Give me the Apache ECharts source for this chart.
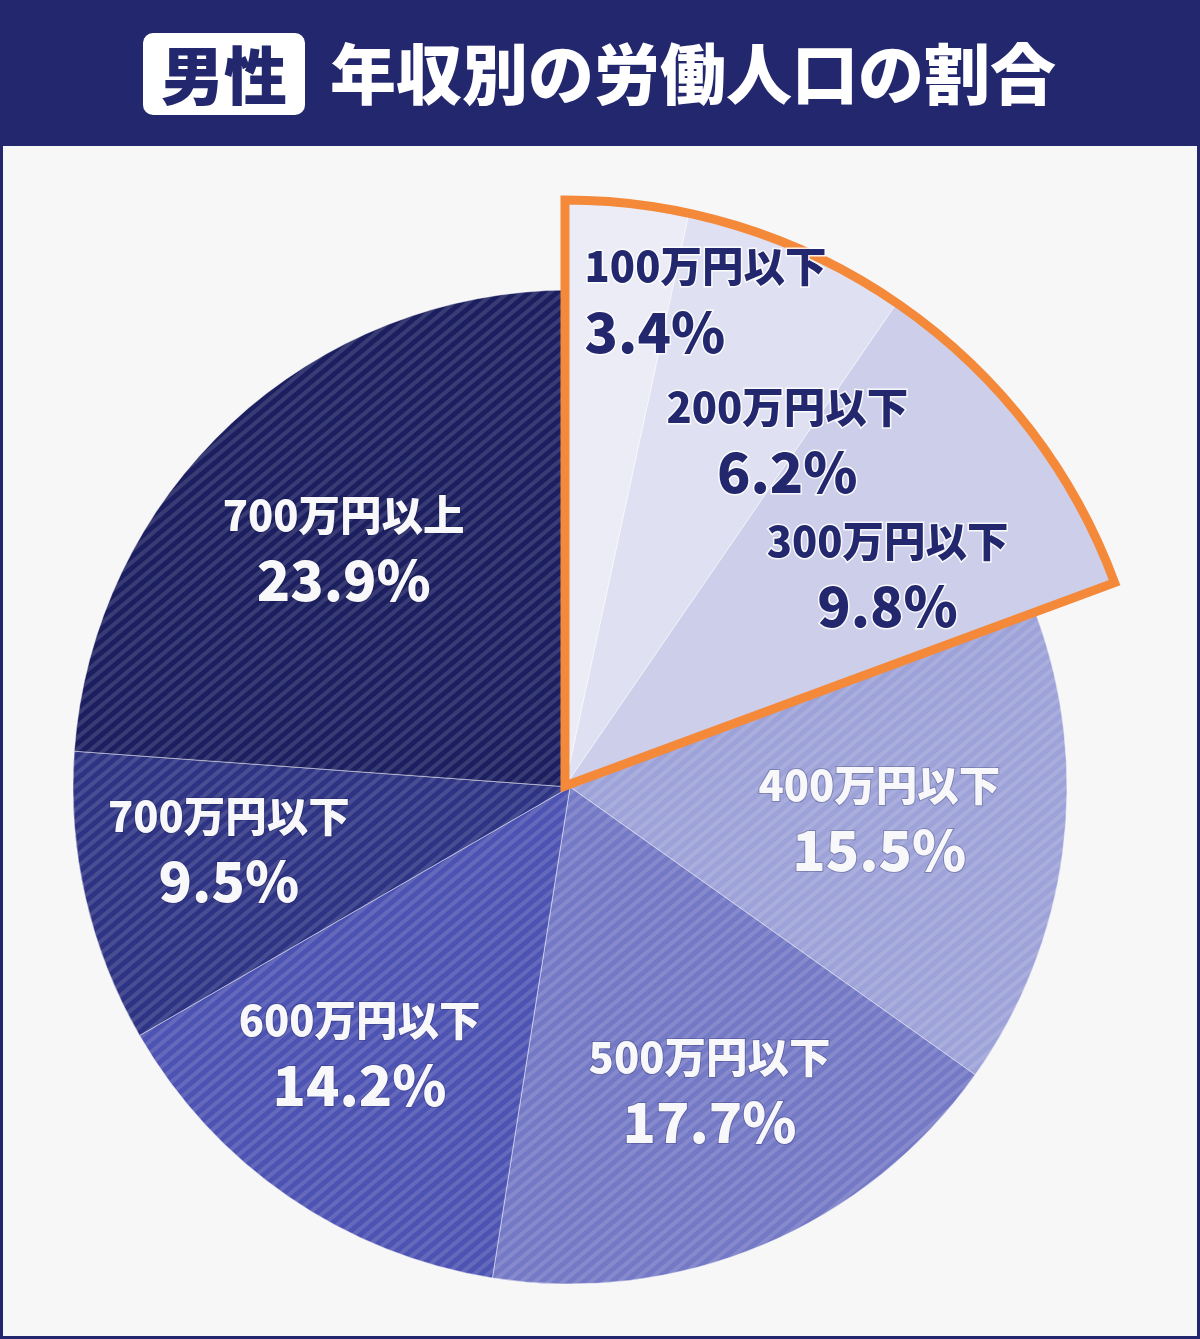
<!DOCTYPE html>
<html>
<head>
<meta charset="utf-8">
<title>男性 年収別の労働人口の割合</title>
<script src="https://cdn.jsdelivr.net/npm/echarts@6/dist/echarts.min.js"></script>
<style>
html, body { margin: 0; padding: 0; background: #f7f7f7; }
#main { width: 1200px; height: 1339px; }
</style>
</head>
<body>
<div id="main"></div>
<script>
// data (clockwise from 12 o'clock)
var categories = ['100万円以下', '200万円以下', '300万円以下', '400万円以下', '500万円以下', '600万円以下', '700万円以下', '700万円以上'];
var shares = [3.4, 6.2, 9.8, 15.5, 17.7, 14.2, 9.5, 23.9];
var sliceColors = ['#ebecf6', '#dfe0f2', '#cdcfea', '#9da2d8', '#7479c6', '#4d53b2', '#2e3483', '#1c1f5f'];
var pulledOut = 3;   // the first three slices are drawn bigger with an orange frame
// label nudges away from the default "inside" spot
var labelOffsets = [[109, -190], [105, -72], [89, -28], [60, 0], [42, 73], [-68, 61], [-96, 8], [-55, -53]];

var navy = '#23286e';
var font = '"Noto Sans CJK JP"';
var stripes = {
  symbol: 'rect',
  symbolSize: 1,
  dashArrayX: [1, 0],
  dashArrayY: [4, 5],
  rotation: -0.7,
  color: 'rgba(255,255,255,0.13)'
};
var hidden = { color: 'rgba(0,0,0,0)', borderWidth: 0 };

var mainData = [];
var bigData = [];
for (var i = 0; i < categories.length; i++) {
  var isBig = i < pulledOut;
  mainData.push({
    name: categories[i],
    value: shares[i],
    itemStyle: isBig ? hidden : { color: sliceColors[i], decal: stripes },
    label: isBig ? { show: false } : { offset: labelOffsets[i] }
  });
  var lbl = { offset: labelOffsets[i] };
  if (i == 0) {
    lbl.rich = { n: { align: 'left' }, p: { align: 'left' } };
  }
  bigData.push({
    name: categories[i],
    value: shares[i],
    itemStyle: isBig ? { color: sliceColors[i] } : hidden,
    label: isBig ? lbl : { show: false }
  });
}

var frontSum = 0, backSum = 0;
shares.forEach(function (v, k) { if (k < pulledOut) frontSum += v; else backSum += v; });

function labelText(p) {
  return '{n|' + p.name + '}\n{p|' + p.value.toFixed(1) + '%}';
}
var rich = {
  n: { fontSize: 41.5, fontWeight: 900, fontFamily: font, lineHeight: 60 },
  p: { fontSize: 55, fontWeight: 900, fontFamily: font, lineHeight: 70 }
};

var myChart = echarts.init(document.getElementById('main'), null, { renderer: 'canvas' });

var option = {
  animation: false,
  backgroundColor: '#f7f7f7',
  graphic: [
    { type: 'rect', shape: { x: 0, y: 0, width: 1200, height: 146 }, style: { fill: navy }, silent: true },
    { type: 'rect', shape: { x: 1.5, y: 1.5, width: 1197, height: 1336 }, style: { fill: 'none', stroke: navy, lineWidth: 3 }, silent: true },
    { type: 'rect', shape: { x: 143, y: 33, width: 162, height: 82, r: 10 }, style: { fill: '#ffffff' }, silent: true },
    {
      type: 'text', x: 224, y: 75, silent: true,
      style: { text: '男性', fill: navy, fontSize: 63, fontWeight: 900, fontFamily: font, align: 'center', verticalAlign: 'middle', textAlign: 'center', textVerticalAlign: 'middle' }
    },
    {
      type: 'text', x: 330, y: 74, silent: true,
      style: { text: '年収別の労働人口の割合', fill: '#ffffff', fontSize: 66, fontWeight: 900, fontFamily: font, align: 'left', verticalAlign: 'middle', textAlign: 'left', textVerticalAlign: 'middle' }
    }
  ],
  series: [
    {
      // main pie
      type: 'pie',
      silent: true,
      center: [570, 787],
      radius: 497,
      startAngle: 90,
      itemStyle: { borderColor: 'rgba(255,255,255,0.25)', borderWidth: 1 },
      label: {
        position: 'inside',
        formatter: labelText,
        color: '#f8f8fa',
        textBorderColor: 'rgba(20,22,70,0.25)',
        textBorderWidth: 2,
        rich: rich
      },
      labelLine: { show: false },
      data: mainData
    },
    {
      // pulled out slices
      type: 'pie',
      silent: true,
      center: [565, 786],
      radius: 586,
      startAngle: 90,
      itemStyle: { borderColor: 'rgba(255,255,255,0.5)', borderWidth: 1 },
      label: {
        position: 'inside',
        formatter: labelText,
        color: navy,
        textBorderColor: 'rgba(255,255,255,0.85)',
        textBorderWidth: 3,
        rich: rich
      },
      labelLine: { show: false },
      data: bigData
    },
    {
      // orange frame round the pulled out slices
      type: 'pie',
      silent: true,
      center: [565, 786],
      radius: 586,
      startAngle: 90,
      label: { show: false },
      labelLine: { show: false },
      data: [
        { value: frontSum, itemStyle: { color: 'rgba(0,0,0,0)', borderColor: '#f4893a', borderWidth: 9, borderJoin: 'miter' } },
        { value: backSum, itemStyle: hidden }
      ]
    }
  ]
};

myChart.setOption(option);
</script>
</body>
</html>
